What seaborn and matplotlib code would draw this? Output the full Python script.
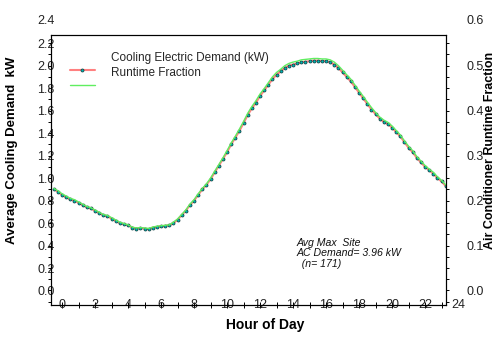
import numpy as np
import pandas as pd
import seaborn as sns
import matplotlib
matplotlib.use('Agg')
import matplotlib.pyplot as plt
from matplotlib.ticker import MultipleLocator, FormatStrFormatter

# 15 minute steps, positions read in axis-label hours
hour = np.arange(-0.5, 23.5, 0.25)

demand_kw = [0.90, 0.88, 0.85, 0.83, 0.81, 0.80, 0.78, 0.76, 0.74, 0.73, 0.71, 0.69,
             0.67, 0.66, 0.64, 0.62, 0.60, 0.59, 0.58, 0.56, 0.55, 0.555, 0.55, 0.545,
             0.56, 0.565, 0.57, 0.575, 0.58, 0.60, 0.63, 0.67, 0.71, 0.76, 0.80, 0.85,
             0.90, 0.94, 0.99, 1.05, 1.11, 1.17, 1.23, 1.30, 1.36, 1.42, 1.49, 1.56,
             1.62, 1.67, 1.73, 1.78, 1.83, 1.88, 1.92, 1.95, 1.98, 2.00, 2.01, 2.02,
             2.03, 2.035, 2.04, 2.045, 2.045, 2.04, 2.04, 2.03, 2.01, 1.98, 1.94, 1.90,
             1.86, 1.81, 1.76, 1.71, 1.66, 1.61, 1.57, 1.53, 1.50, 1.48, 1.45, 1.41,
             1.37, 1.32, 1.27, 1.23, 1.18, 1.14, 1.10, 1.07, 1.04, 1.00, 0.97, 0.93]

runtime_frac = [0.227, 0.222, 0.215, 0.210, 0.205, 0.202, 0.197, 0.192, 0.187, 0.184, 0.179, 0.174,
                0.169, 0.167, 0.162, 0.157, 0.152, 0.149, 0.146, 0.141, 0.139, 0.140, 0.139, 0.138,
                0.141, 0.143, 0.144, 0.145, 0.146, 0.152, 0.159, 0.169, 0.179, 0.192, 0.202, 0.215,
                0.227, 0.237, 0.250, 0.265, 0.280, 0.295, 0.311, 0.328, 0.343, 0.359, 0.376, 0.394,
                0.409, 0.422, 0.437, 0.449, 0.462, 0.475, 0.485, 0.492, 0.500, 0.505, 0.508, 0.510,
                0.513, 0.514, 0.515, 0.516, 0.516, 0.515, 0.515, 0.513, 0.508, 0.500, 0.490, 0.480,
                0.470, 0.457, 0.444, 0.432, 0.419, 0.407, 0.396, 0.386, 0.379, 0.374, 0.366, 0.356,
                0.346, 0.333, 0.321, 0.311, 0.298, 0.288, 0.278, 0.270, 0.263, 0.253, 0.245, 0.235]

series_labels = ["Cooling Electric Demand (kW)", "Runtime Fraction"]
note = "Avg Max  Site\nAC Demand= 3.96 kW\n  (n= 171)"

sns.set_theme(style='ticks')
plt.rcParams['font.family'] = ['Liberation Sans', 'DejaVu Sans']

df = pd.DataFrame({'hour': hour, 'kw': demand_kw, 'rtf': runtime_frac})

fig = plt.figure(figsize=(4.96, 3.5), dpi=100)
ax = fig.add_axes([0.1028, 0.1286, 0.7964, 0.7714])
ax2 = ax.twinx()

sns.lineplot(data=df, x='hour', y='kw', ax=ax, color='#ff8080', lw=1.5,
             marker='o', markersize=2.2, markerfacecolor='#00b4b4',
             markeredgecolor='#103838', markeredgewidth=0.5)
sns.lineplot(data=df, x='hour', y='rtf', ax=ax2, color='#60ee60', lw=1.0)

ax.set_xlim(-0.67, 23.27)
ax.set_ylim(-0.129, 2.273)
ax2.set_ylim(-0.129 / 4, 2.273 / 4)

ax.set_xticks(np.arange(0, 23, 2))
ax.xaxis.set_minor_locator(MultipleLocator(1))
ax.set_yticks(np.arange(0, 2.3, 0.2))
ax.yaxis.set_minor_locator(MultipleLocator(0.1))
ax.yaxis.set_major_formatter(FormatStrFormatter('%.1f'))
ax2.set_yticks(np.arange(0, 0.55, 0.1))
ax2.yaxis.set_minor_locator(MultipleLocator(0.025))
ax2.yaxis.set_major_formatter(FormatStrFormatter('%.1f'))

tick_col = '#222222'
ax.tick_params(axis='y', which='both', direction='out', length=2.5, width=0.7,
               color='black', labelsize=9, labelcolor=tick_col, pad=-5)
ax.tick_params(axis='x', which='both', direction='inout', length=5, width=0.7,
               color='black', labelsize=9, labelcolor=tick_col, pad=-6.5)
ax2.tick_params(axis='y', which='both', direction='out', length=2.5, width=0.7,
                color='black', labelsize=9, labelcolor=tick_col, pad=12)

for a in (ax, ax2):
    for s in a.spines.values():
        s.set_visible(True)
        s.set_color('black')
        s.set_linewidth(0.8)

# labels that sit just outside the plotting box
ax.annotate('2.4', xy=(0, 2.4), xycoords=('axes fraction', 'data'), xytext=(3, 0),
            textcoords='offset points', ha='right', va='center', fontsize=9,
            color=tick_col, annotation_clip=False)
ax2.annotate('0.6', xy=(1, 0.6), xycoords=('axes fraction', 'data'), xytext=(14.5, 0),
             textcoords='offset points', ha='left', va='center', fontsize=9,
             color=tick_col, annotation_clip=False)
ax.annotate('24', xy=(24, 0), xycoords=('data', 'axes fraction'), xytext=(0, 0),
            textcoords='offset points', ha='center', va='center', fontsize=9,
            color=tick_col, annotation_clip=False)

ax.set_xlabel("Hour of Day", fontsize=10, fontweight='bold', color='black')
ax.set_ylabel("Average Cooling Demand  kW", fontsize=9.5, fontweight='bold', color='black')
ax2.set_ylabel("Air Conditioner Runtime Fraction", fontsize=9, fontweight='bold', color='black')
ax.xaxis.set_label_coords(0.542, -0.05)
ax.yaxis.set_label_coords(-0.083, 0.574)
ax2.yaxis.set_label_coords(1.097, 0.574)

ax.text(14.2, 0.467, note, style='italic', fontsize=7.6, va='top', ha='left',
        linespacing=1.05, color='#111111')

handles = [ax.lines[0], ax2.lines[0]]
leg = ax2.legend(handles, series_labels, loc='upper left', bbox_to_anchor=(0.048, 0.888),
                 frameon=False, fontsize=8.5, borderpad=0, borderaxespad=0,
                 handlelength=2.1, handletextpad=1.4, labelspacing=0.25)
# the labels in the reference sit one row above their line samples
for t in leg.get_texts():
    t.set_position((0, 13))

fig.savefig('out.png', dpi=100)
